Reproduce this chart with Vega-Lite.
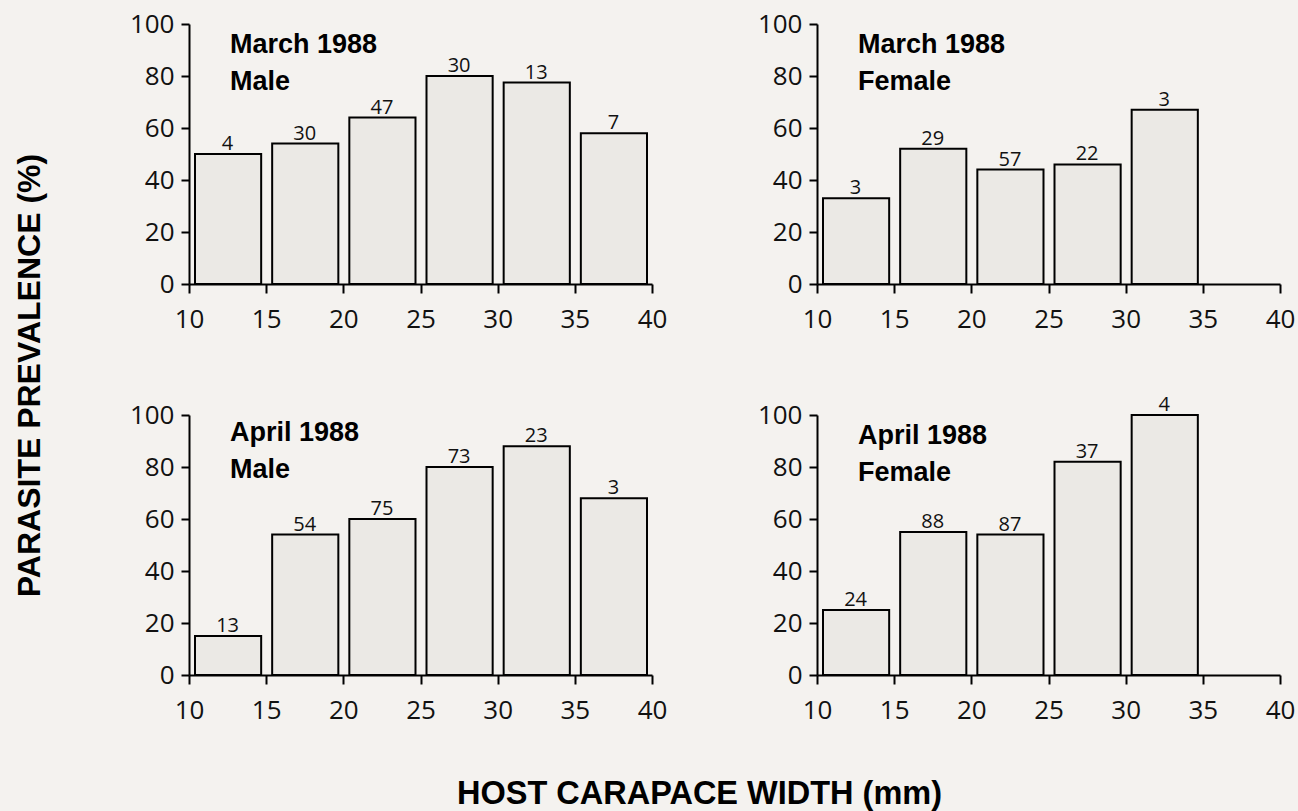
{
  "$schema": "https://vega.github.io/schema/vega-lite/v6.json",
  "background": "#f4f2ef",
  "autosize": {"type": "none"},
  "padding": {"left": 189, "top": 24, "right": 1109, "bottom": 787},
  "bounds": "flush",
  "columns": 2,
  "spacing": {"row": 131, "column": 165},
  "datasets": {
    "bars": [
      {"panel": "TL", "lo": 10, "hi": 15, "mid": 12.5, "prevalence": 50, "n": 4},
      {"panel": "TL", "lo": 15, "hi": 20, "mid": 17.5, "prevalence": 54, "n": 30},
      {"panel": "TL", "lo": 20, "hi": 25, "mid": 22.5, "prevalence": 64, "n": 47},
      {"panel": "TL", "lo": 25, "hi": 30, "mid": 27.5, "prevalence": 80, "n": 30},
      {"panel": "TL", "lo": 30, "hi": 35, "mid": 32.5, "prevalence": 77.5, "n": 13},
      {"panel": "TL", "lo": 35, "hi": 40, "mid": 37.5, "prevalence": 58, "n": 7},
      {"panel": "TR", "lo": 10, "hi": 15, "mid": 12.5, "prevalence": 33, "n": 3},
      {"panel": "TR", "lo": 15, "hi": 20, "mid": 17.5, "prevalence": 52, "n": 29},
      {"panel": "TR", "lo": 20, "hi": 25, "mid": 22.5, "prevalence": 44, "n": 57},
      {"panel": "TR", "lo": 25, "hi": 30, "mid": 27.5, "prevalence": 46, "n": 22},
      {"panel": "TR", "lo": 30, "hi": 35, "mid": 32.5, "prevalence": 67, "n": 3},
      {"panel": "BL", "lo": 10, "hi": 15, "mid": 12.5, "prevalence": 15, "n": 13},
      {"panel": "BL", "lo": 15, "hi": 20, "mid": 17.5, "prevalence": 54, "n": 54},
      {"panel": "BL", "lo": 20, "hi": 25, "mid": 22.5, "prevalence": 60, "n": 75},
      {"panel": "BL", "lo": 25, "hi": 30, "mid": 27.5, "prevalence": 80, "n": 73},
      {"panel": "BL", "lo": 30, "hi": 35, "mid": 32.5, "prevalence": 88, "n": 23},
      {"panel": "BL", "lo": 35, "hi": 40, "mid": 37.5, "prevalence": 68, "n": 3},
      {"panel": "BR", "lo": 10, "hi": 15, "mid": 12.5, "prevalence": 25, "n": 24},
      {"panel": "BR", "lo": 15, "hi": 20, "mid": 17.5, "prevalence": 55, "n": 88},
      {"panel": "BR", "lo": 20, "hi": 25, "mid": 22.5, "prevalence": 54, "n": 87},
      {"panel": "BR", "lo": 25, "hi": 30, "mid": 27.5, "prevalence": 82, "n": 37},
      {"panel": "BR", "lo": 30, "hi": 35, "mid": 32.5, "prevalence": 100, "n": 4}
    ]
  },
  "config": {
    "view": {"stroke": null},
    "axis": {
      "grid": false,
      "domainColor": "#000000",
      "domainWidth": 2,
      "tickColor": "#000000",
      "tickWidth": 2,
      "labelFont": "Open Sans",
      "labelFontSize": 26,
      "labelColor": "#111111",
      "labelOverlap": false,
      "labelFlush": false,
      "labelBound": false
    },
    "axisX": {"tickSize": 9, "labelPadding": 13},
    "axisY": {"tickSize": 8, "labelPadding": 7},
    "title": {
      "font": "Liberation Sans",
      "fontSize": 27,
      "fontWeight": "bold",
      "color": "#000000",
      "orient": "bottom",
      "anchor": "start",
      "frame": "group",
      "align": "left",
      "baseline": "alphabetic",
      "lineHeight": 37,
      "offset": -300,
      "dx": 41
    }
  },
  "concat": [
    {
      "width": 463, "height": 260,
      "title": {"text": ["March 1988", "Male"]},
      "data": {"name": "bars"},
      "transform": [{"filter": "datum.panel == 'TL'"}],
      "layer": [
        {
          "mark": {"type": "bar", "fill": "#ebe9e5", "stroke": "#000000", "strokeWidth": 2, "xOffset": 6, "x2Offset": -5},
          "encoding": {
            "x": {"field": "lo", "type": "quantitative", "scale": {"domain": [10, 40], "nice": false, "zero": false}, "axis": {"values": [10, 15, 20, 25, 30, 35, 40], "title": null}},
            "x2": {"field": "hi"},
            "y": {"field": "prevalence", "type": "quantitative", "scale": {"domain": [0, 100], "nice": false}, "axis": {"values": [0, 20, 40, 60, 80, 100], "title": null}},
            "y2": {"datum": 0}
          }
        },
        {
          "mark": {"type": "text", "font": "Open Sans", "fontSize": 20, "baseline": "alphabetic", "align": "center", "dy": -4, "color": "#111111"},
          "encoding": {
            "x": {"field": "mid", "type": "quantitative", "title": null},
            "y": {"field": "prevalence", "type": "quantitative", "title": null},
            "text": {"field": "n", "type": "quantitative"}
          }
        }
      ]
    },
    {
      "width": 463, "height": 260,
      "title": {"text": ["March 1988", "Female"]},
      "data": {"name": "bars"},
      "transform": [{"filter": "datum.panel == 'TR'"}],
      "layer": [
        {
          "mark": {"type": "bar", "fill": "#ebe9e5", "stroke": "#000000", "strokeWidth": 2, "xOffset": 6, "x2Offset": -5},
          "encoding": {
            "x": {"field": "lo", "type": "quantitative", "scale": {"domain": [10, 40], "nice": false, "zero": false}, "axis": {"values": [10, 15, 20, 25, 30, 35, 40], "title": null}},
            "x2": {"field": "hi"},
            "y": {"field": "prevalence", "type": "quantitative", "scale": {"domain": [0, 100], "nice": false}, "axis": {"values": [0, 20, 40, 60, 80, 100], "title": null}},
            "y2": {"datum": 0}
          }
        },
        {
          "mark": {"type": "text", "font": "Open Sans", "fontSize": 20, "baseline": "alphabetic", "align": "center", "dy": -4, "color": "#111111"},
          "encoding": {
            "x": {"field": "mid", "type": "quantitative", "title": null},
            "y": {"field": "prevalence", "type": "quantitative", "title": null},
            "text": {"field": "n", "type": "quantitative"}
          }
        }
      ]
    },
    {
      "width": 463, "height": 260,
      "title": {"text": ["April 1988", "Male"], "offset": -390},
      "data": {"name": "bars"},
      "transform": [{"filter": "datum.panel == 'BL'"}],
      "layer": [
        {
          "mark": {"type": "bar", "fill": "#ebe9e5", "stroke": "#000000", "strokeWidth": 2, "xOffset": 6, "x2Offset": -5},
          "encoding": {
            "x": {"field": "lo", "type": "quantitative", "scale": {"domain": [10, 40], "nice": false, "zero": false},
                  "axis": {"values": [10, 15, 20, 25, 30, 35, 40], "title": "HOST CARAPACE WIDTH (mm)", "titleX": 510, "titleY": 128, "titleAlign": "center", "titleBaseline": "alphabetic", "titleFont": "Liberation Sans", "titleFontSize": 32.5, "titleFontWeight": "bold", "titleColor": "#000000"}},
            "x2": {"field": "hi"},
            "y": {"field": "prevalence", "type": "quantitative", "scale": {"domain": [0, 100], "nice": false},
                  "axis": {"values": [0, 20, 40, 60, 80, 100], "title": "PARASITE PREVALENCE (%)", "titleX": -150, "titleY": -40, "titleAngle": 270, "titleAlign": "center", "titleBaseline": "alphabetic", "titleFont": "Liberation Sans", "titleFontSize": 32, "titleFontWeight": "bold", "titleColor": "#000000"}},
            "y2": {"datum": 0}
          }
        },
        {
          "mark": {"type": "text", "font": "Open Sans", "fontSize": 20, "baseline": "alphabetic", "align": "center", "dy": -4, "color": "#111111"},
          "encoding": {
            "x": {"field": "mid", "type": "quantitative", "title": "HOST CARAPACE WIDTH (mm)"},
            "y": {"field": "prevalence", "type": "quantitative", "title": "PARASITE PREVALENCE (%)"},
            "text": {"field": "n", "type": "quantitative"}
          }
        }
      ]
    },
    {
      "width": 463, "height": 260,
      "title": {"text": ["April 1988", "Female"]},
      "data": {"name": "bars"},
      "transform": [{"filter": "datum.panel == 'BR'"}],
      "layer": [
        {
          "mark": {"type": "bar", "fill": "#ebe9e5", "stroke": "#000000", "strokeWidth": 2, "xOffset": 6, "x2Offset": -5},
          "encoding": {
            "x": {"field": "lo", "type": "quantitative", "scale": {"domain": [10, 40], "nice": false, "zero": false}, "axis": {"values": [10, 15, 20, 25, 30, 35, 40], "title": null}},
            "x2": {"field": "hi"},
            "y": {"field": "prevalence", "type": "quantitative", "scale": {"domain": [0, 100], "nice": false}, "axis": {"values": [0, 20, 40, 60, 80, 100], "title": null}},
            "y2": {"datum": 0}
          }
        },
        {
          "mark": {"type": "text", "font": "Open Sans", "fontSize": 20, "baseline": "alphabetic", "align": "center", "dy": -4, "color": "#111111"},
          "encoding": {
            "x": {"field": "mid", "type": "quantitative", "title": null},
            "y": {"field": "prevalence", "type": "quantitative", "title": null},
            "text": {"field": "n", "type": "quantitative"}
          }
        }
      ]
    }
  ]
}
